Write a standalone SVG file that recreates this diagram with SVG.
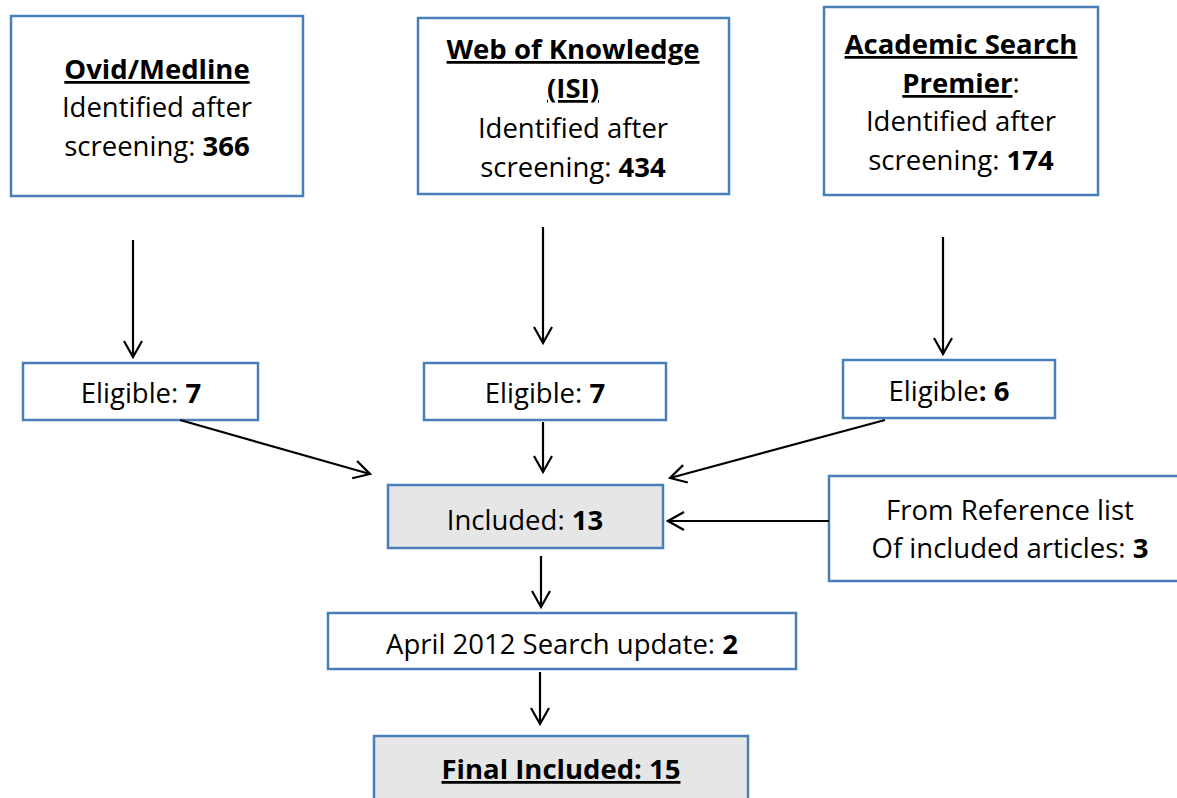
<svg xmlns="http://www.w3.org/2000/svg" width="1177" height="798" viewBox="0 0 1177 798">
  <style>
    .box { fill: #ffffff; stroke: #4a7ebb; stroke-width: 2.5; }
    .grey { fill: #e6e6e6; }
    text { font-family: "Open Sans", "Liberation Sans", sans-serif; font-size: 27.5px; fill: #000000; text-anchor: middle; }
    .b { font-weight: bold; }
    .u { text-decoration: underline; }
    .conn line { stroke: #000000; stroke-width: 2.2; marker-end: url(#arrow); }
  </style>
  <defs>
    <marker id="arrow" markerUnits="userSpaceOnUse" viewBox="-18 -11 20 22" refX="0" refY="0" markerWidth="20" markerHeight="22" orient="auto">
      <path d="M-16,-9 L0,0 L-16,9" fill="none" stroke="#000000" stroke-width="2.2"/>
    </marker>
  </defs>

  <!-- Database sources -->
  <g id="ovid">
    <rect class="box" x="11" y="16" width="292" height="180"/>
    <text x="157" y="79"><tspan class="b u">Ovid/Medline</tspan></text>
    <text x="157" y="117">Identified after</text>
    <text x="157" y="156">screening: <tspan class="b">366</tspan></text>
  </g>
  <g id="wok">
    <rect class="box" x="418" y="18" width="311" height="176"/>
    <text x="573" y="59"><tspan class="b u">Web of Knowledge</tspan></text>
    <text x="573" y="98"><tspan class="b u">(ISI)</tspan></text>
    <text x="573" y="138">Identified after</text>
    <text x="573" y="177">screening: <tspan class="b">434</tspan></text>
  </g>
  <g id="asp">
    <rect class="box" x="824" y="7" width="274" height="188"/>
    <text x="961" y="54"><tspan class="b u">Academic Search</tspan></text>
    <text x="961" y="93"><tspan class="b u">Premier</tspan>:</text>
    <text x="961" y="131">Identified after</text>
    <text x="961" y="170">screening: <tspan class="b">174</tspan></text>
  </g>

  <!-- Eligibility -->
  <g id="eligible-ovid">
    <rect class="box" x="23" y="363" width="235" height="57"/>
    <text x="141" y="403">Eligible: <tspan class="b">7</tspan></text>
  </g>
  <g id="eligible-wok">
    <rect class="box" x="424" y="363" width="242" height="57"/>
    <text x="545" y="403">Eligible: <tspan class="b">7</tspan></text>
  </g>
  <g id="eligible-asp">
    <rect class="box" x="843" y="360" width="212" height="58"/>
    <text x="949" y="401">Eligible<tspan class="b">: 6</tspan></text>
  </g>

  <!-- Inclusion -->
  <g id="included">
    <rect class="box grey" x="388" y="485" width="275" height="63"/>
    <text x="525" y="530">Included: <tspan class="b">13</tspan></text>
  </g>
  <g id="reference-list">
    <rect class="box" x="829" y="476" width="360" height="105"/>
    <text x="1010" y="520">From Reference list</text>
    <text x="1010" y="558">Of included articles: <tspan class="b">3</tspan></text>
  </g>
  <g id="update">
    <rect class="box" x="328" y="613" width="468" height="56"/>
    <text x="562" y="654">April 2012 Search update: <tspan class="b">2</tspan></text>
  </g>
  <g id="final">
    <rect class="box grey" x="374" y="736" width="374" height="80"/>
    <text x="561" y="779"><tspan class="b u">Final Included: 15</tspan></text>
  </g>

  <!-- Connectors -->
  <g class="conn" id="connectors">
    <line x1="133" y1="240" x2="133" y2="357"/>
    <line x1="543" y1="227" x2="543" y2="343"/>
    <line x1="943" y1="237" x2="943" y2="354"/>
    <line x1="180" y1="420" x2="370" y2="474"/>
    <line x1="543" y1="422" x2="543" y2="472"/>
    <line x1="885" y1="420" x2="670" y2="478"/>
    <line x1="829" y1="521" x2="668" y2="521"/>
    <line x1="541" y1="556" x2="541" y2="607"/>
    <line x1="540" y1="672" x2="540" y2="724"/>
  </g>
</svg>
